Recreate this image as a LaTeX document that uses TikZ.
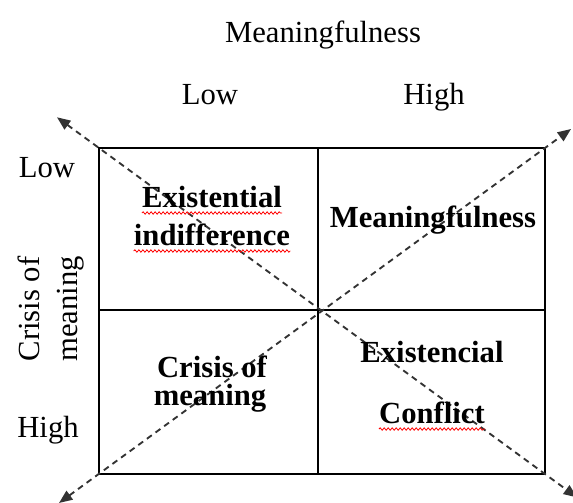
\documentclass[tikz,border=0pt]{standalone}
\usepackage{fontspec}
\setmainfont{Liberation Serif}
\usepackage{tikz}
\usetikzlibrary{arrows.meta, decorations.pathmorphing}

\tikzset{
  axislabel/.style={anchor=base, inner sep=0pt,
    font=\fontsize{23}{28}\selectfont},
  quadlabel/.style={anchor=base, inner sep=0pt,
    font=\fontsize{23}{28}\selectfont\bfseries},
  grid/.style={line width=1.5pt, color=black},
  diag/.style={{Triangle[length=10pt, width=8pt]}-{Triangle[length=10pt, width=8pt]},
    line width=1.4pt, dash pattern=on 4.5pt off 3.5pt, color=black!80},
  spell/.style={red, line width=0.6pt, decorate,
    decoration={snake, amplitude=0.9pt, segment length=3pt}}
}

\begin{document}
\begin{tikzpicture}[x=0.75pt, y=-0.75pt]
  \useasboundingbox (0,0) rectangle (573,502);
  \clip (0,0) rectangle (573,502);

  % Corners of the matrix
  \coordinate (nw) at (99,148);
  \coordinate (se) at (545,474);
  \coordinate (ne) at (545,148);
  \coordinate (sw) at (99,474);

  % Ends of the two dashed diagonals
  \coordinate (tipnw) at (57,117.3);
  \coordinate (tipse) at (577,497.4);
  \coordinate (tipne) at (571,129);
  \coordinate (tipsw) at (59,503);

  % Four quadrants
  \draw[grid] (nw) rectangle (se);
  \draw[grid] (318,148) -- (318,474);
  \draw[grid] (99,310) -- (545,310);

  % Diagonals
  \draw[diag] (tipnw) -- (tipse);
  \draw[diag] (tipsw) -- (tipne);

  % Horizontal axis
  \node[axislabel] (xtitle) at (323,43) {Meaningfulness};
  \node[axislabel] (xlow) at (210,105) {Low};
  \node[axislabel] (xhigh) at (434,105) {High};

  % Vertical axis
  \node[axislabel] (ylow) at (47,177) {Low};
  \node[axislabel] (yhigh) at (48,437) {High};
  \node[axislabel, anchor=center, rotate=90] (ytitle1) at (29,309) {Crisis of};
  \node[axislabel, anchor=center, rotate=90] (ytitle2) at (71,309) {meaning};

  % Quadrant names
  \node[quadlabel] (exi) at (212,207) {Existential};
  \node[quadlabel] (ind) at (212,245) {indifference};
  \node[quadlabel] (mea) at (433,227) {Meaningfulness};
  \node[quadlabel] (cri) at (212,377) {Crisis of};
  \node[quadlabel] (cme) at (210,405) {meaning};
  \node[quadlabel] (exc) at (432,362) {Existencial};
  \node[quadlabel] (con) at (432,423) {Conflict};

  % Spell-check marks
  \draw[spell] ([yshift=-4.5pt]exi.base west) -- ([yshift=-4.5pt]exi.base east);
  \draw[spell] ([yshift=-4.5pt]ind.base west) -- ([yshift=-4.5pt]ind.base east);
  \draw[spell] ([yshift=-4.5pt]con.base west) -- ([yshift=-4.5pt]con.base east);
\end{tikzpicture}
\end{document}
